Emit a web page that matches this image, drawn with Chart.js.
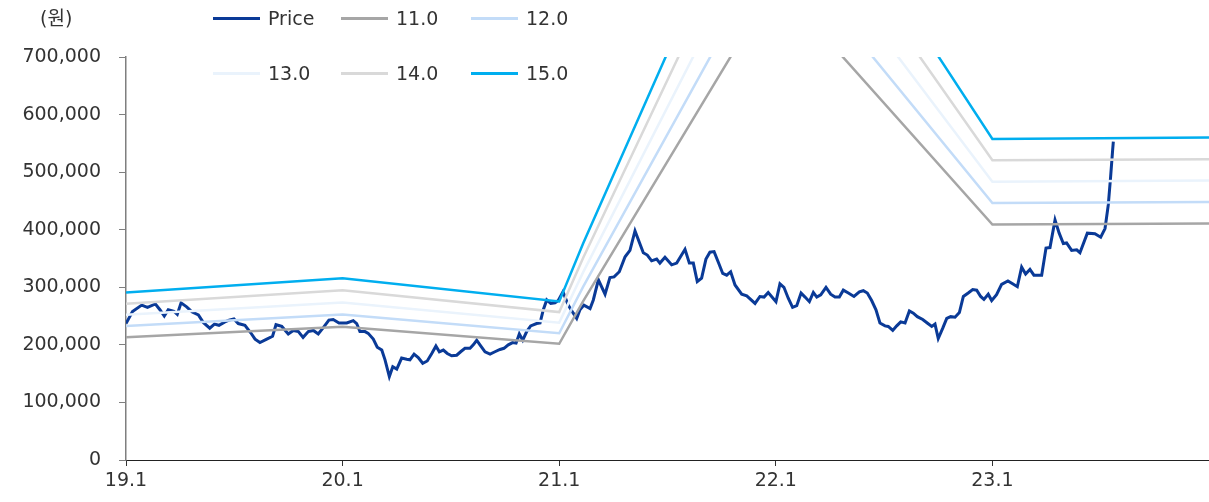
<!DOCTYPE html>
<html lang="ko">
<head>
<meta charset="UTF-8">
<title>PER Band</title>
<script src="https://cdn.jsdelivr.net/npm/chart.js"></script>
<style>
  body { margin: 0; background: #fff; font-family: "DejaVu Sans", "Noto Sans CJK KR", sans-serif; color: #333; }
  #wrap { position: relative; width: 1209px; height: 502px; }
  #unit { position: absolute; left: 40px; top: 6px; font-size: 19px; line-height: 24px; }
  .lg { position: absolute; display: flex; align-items: center; font-size: 19px; line-height: 24px; }
  .lg span.ln { display: inline-block; width: 47px; height: 3px; margin-right: 8px; }
</style>
</head>
<body>
<div id="wrap">
  <canvas id="chart" width="1209" height="502"></canvas>
  <div id="unit">(원)</div>
  <div id="legend"></div>
</div>
<script>
// x 값: 19.1 기준 개월 수
const xTickLabels = ['19.1', '20.1', '21.1', '22.1', '23.1'];

// 주가 (천원)
const priceMonths = [0, 0.36, 0.87, 1.19, 1.63, 1.88, 2.12, 2.34, 2.66, 2.84,
  3.05, 3.36, 3.67, 4.01, 4.28, 4.64, 4.90, 5.15, 5.48, 5.71,
  5.98, 6.22, 6.59, 6.91, 7.15, 7.42, 7.80, 8.12, 8.31, 8.63,
  8.99, 9.27, 9.55, 9.81, 10.10, 10.38, 10.65, 10.93, 11.24, 11.48,
  11.80, 12.23, 12.59, 12.78, 12.96, 13.24, 13.42, 13.70, 13.92, 14.17,
  14.35, 14.59, 14.78, 15.00, 15.27, 15.55, 15.73, 15.96, 16.19, 16.44,
  16.69, 16.94, 17.17, 17.36, 17.58, 17.80, 18.04, 18.32, 18.54, 18.78,
  19.06, 19.24, 19.43, 19.61, 19.89, 20.17, 20.44, 20.72, 20.94, 21.18,
  21.42, 21.61, 21.79, 21.98, 22.20, 22.42, 22.75, 22.94, 23.12, 23.31,
  23.53, 23.77, 23.95, 24.21, 24.50, 24.78, 24.97, 25.15, 25.37, 25.71,
  25.89, 26.17, 26.54, 26.81, 27.04, 27.33, 27.65, 27.92, 28.20, 28.66,
  28.88, 29.12, 29.40, 29.58, 29.86, 30.23, 30.51, 30.97, 31.21, 31.43,
  31.65, 31.89, 32.13, 32.35, 32.58, 32.81, 33.06, 33.28, 33.50, 33.74,
  34.11, 34.39, 34.85, 35.12, 35.35, 35.58, 36.01, 36.23, 36.45, 36.69,
  36.93, 37.16, 37.40, 37.62, 37.86, 38.08, 38.27, 38.49, 38.78, 39.04,
  39.28, 39.52, 39.74, 40.02, 40.33, 40.63, 40.85, 41.07, 41.31, 41.55,
  41.77, 42.05, 42.23, 42.48, 42.70, 42.92, 43.16, 43.40, 43.62, 43.84,
  44.14, 44.39, 44.64, 44.82, 45.00, 45.25, 45.47, 45.69, 45.93, 46.17,
  46.39, 46.66, 46.91, 47.13, 47.35, 47.53, 47.77, 47.96, 48.23, 48.51,
  48.86, 49.12, 49.38, 49.62, 49.84, 50.08, 50.30, 50.73, 50.97, 51.19,
  51.47, 51.70, 51.93, 52.11, 52.39, 52.67, 52.85, 53.26, 53.68, 54.00,
  54.24, 54.42, 54.55, 54.66, 54.70];
const priceValues = [237, 258, 269, 265, 271, 261, 250, 261, 258, 253,
  273, 266, 257, 252, 239, 229, 236, 234, 240, 243,
  245, 237, 234, 221, 210, 204, 210, 215, 235, 232,
  219, 225, 223, 213, 223, 225, 219, 230, 243, 244,
  238, 238, 242, 237, 223, 223, 220, 210, 196, 191,
  174, 145, 162, 158, 177, 175, 174, 184, 178, 168,
  172, 185, 198, 188, 191, 185, 181, 182, 188, 194,
  194, 200, 208, 200, 188, 184, 188, 192, 194, 200,
  204, 203, 219, 208, 223, 233, 237, 238, 261, 278,
  272, 273, 277, 292, 269, 255, 246, 261, 269, 263,
  278, 313, 288, 317, 318, 327, 353, 364, 398, 360,
  356, 346, 349, 342, 352, 339, 342, 366, 342, 342,
  310, 316, 349, 361, 362, 344, 324, 321, 327, 304,
  288, 285, 272, 284, 283, 291, 275, 306, 300, 281,
  265, 268, 290, 283, 275, 291, 283, 287, 300, 288,
  283, 283, 295, 290, 284, 292, 294, 290, 277, 261,
  238, 233, 232, 225, 233, 240, 238, 259, 255, 249,
  244, 238, 232, 236, 211, 229, 246, 249, 248, 256,
  284, 290, 296, 295, 284, 279, 288, 277, 287, 305,
  311, 306, 301, 335, 323, 331, 321, 321, 368, 369,
  417, 394, 376, 377, 364, 365, 360, 394, 393, 387,
  402, 443, 492, 538, 553];

// PER 밴드 (천원)
const bandMonths = [0, 12, 24, 25.33, 36, 48, 60];
const band11 = [213.4, 231.6, 201.9, 276.1, 830.5, 409.0, 410.6];
const band12 = [232.8, 252.6, 220.2, 301.2, 906.0, 446.2, 448.0];
const band13 = [252.2, 273.7, 238.6, 326.3, 981.5, 483.3, 485.3];
const band14 = [271.6, 294.7, 256.9, 351.4, 1057.0, 520.5, 522.6];
const band15 = [291.0, 315.8, 275.3, 376.5, 1132.5, 557.7, 560.0];

const FONT = { family: "'DejaVu Sans', 'Noto Sans CJK KR', sans-serif", size: 19 };

function pts(xs, ys) {
  return xs.map((x, i) => ({ x: x, y: ys[i] * 1000 }));
}

const series = [
  { label: 'Price', data: pts(priceMonths, priceValues), color: '#0a3a97', width: 3, order: 10 },
  { label: '11.0', data: pts(bandMonths, band11), color: '#a6a6a6', width: 2.5, order: 5 },
  { label: '12.0', data: pts(bandMonths, band12), color: '#c3dcf8', width: 2.5, order: 4 },
  { label: '13.0', data: pts(bandMonths, band13), color: '#eaf3fc', width: 2.5, order: 3 },
  { label: '14.0', data: pts(bandMonths, band14), color: '#d9d9d9', width: 2.5, order: 2 },
  { label: '15.0', data: pts(bandMonths, band15), color: '#00aeef', width: 2.5, order: 1 }
];

// legend (2 rows x 3)
const legendBox = document.getElementById('legend');
const lgLeft = [213, 341, 471];
const lgTop = [6, 61];
series.forEach((s, i) => {
  const d = document.createElement('div');
  d.className = 'lg';
  d.style.left = lgLeft[i % 3] + 'px';
  d.style.top = lgTop[Math.floor(i / 3)] + 'px';
  d.innerHTML = '<span class="ln" style="background:' + s.color + '"></span>' + s.label;
  legendBox.appendChild(d);
});

new Chart(document.getElementById('chart'), {
  type: 'line',
  data: {
    datasets: series.map(s => ({
      label: s.label,
      data: s.data,
      borderColor: s.color,
      backgroundColor: s.color,
      borderWidth: s.width,
      pointRadius: 0,
      tension: 0,
      fill: false,
      order: s.order
    }))
  },
  options: {
    responsive: false,
    animation: false,
    devicePixelRatio: 1,
    layout: { padding: { top: 57, left: 0, right: 0, bottom: 0 } },
    plugins: { legend: { display: false }, tooltip: { enabled: false } },
    scales: {
      x: {
        type: 'linear',
        min: 0,
        max: 60,
        afterFit: s => { s.height = 42; s.paddingRight = 0; s.paddingLeft = 0; },
        ticks: {
          stepSize: 12,
          autoSkip: false,
          maxRotation: 0,
          padding: 4,
          color: '#333',
          font: FONT,
          callback: v => xTickLabels[v / 12] || ''
        },
        grid: { drawOnChartArea: false, drawTicks: true, tickLength: 6, color: '#333' },
        border: { color: '#222', width: 1 }
      },
      y: {
        min: 0,
        max: 700000,
        afterFit: s => { s.width = 126; },
        ticks: {
          stepSize: 100000,
          padding: 18,
          color: '#333',
          font: FONT,
          callback: v => v.toLocaleString('en-US')
        },
        grid: { drawOnChartArea: false, drawTicks: true, tickLength: 7, color: '#7f7f7f' },
        border: { color: '#7f7f7f', width: 1.5 }
      }
    }
  }
});
</script>
</body>
</html>
